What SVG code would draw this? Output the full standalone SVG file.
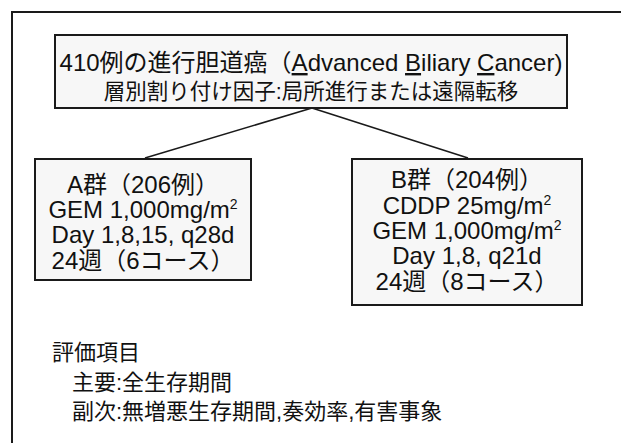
<svg xmlns="http://www.w3.org/2000/svg" width="621" height="443" viewBox="0 0 621 443">
<style>
text{font-family:"Liberation Sans","Noto Sans CJK JP",sans-serif;fill:#111}
.box{fill:#f7f7f7;stroke:#1a1a1a;stroke-width:2}
.frame{fill:none;stroke:#1a1a1a;stroke-width:2}
.conn{fill:none;stroke:#1a1a1a;stroke-width:1.6}
.c{text-anchor:middle}
.n{font-size:24px}
.s{font-size:22px}
.u{text-decoration:underline}
</style>
<path class="frame" d="M12,445 V12 H621"/>
<g id="connectors">
<line class="conn" x1="312" y1="108" x2="145" y2="158"/>
<line class="conn" x1="312" y1="108" x2="468" y2="158"/>
</g>
<g id="top">
<rect class="box" x="55" y="35" width="512" height="73"/>
<text class="c n" x="311" y="71">410例の進行胆道癌（<tspan class="u">A</tspan>dvanced <tspan class="u">B</tspan>iliary <tspan class="u">C</tspan>ancer)</text>
<text class="c" x="311" y="99" font-size="21.5">層別割り付け因子:局所進行または遠隔転移</text>
</g>
<g id="groupA">
<rect class="box" x="35" y="159" width="216" height="121"/>
<text class="c n" x="143" y="193">A群（206例）</text>
<text class="c n" x="143" y="218">GEM 1,000mg/m<tspan font-size="14" dy="-9">2</tspan></text>
<text class="c n" x="143" y="243">Day 1,8,15, q28d</text>
<text class="c n" x="143" y="269">24週（6コース）</text>
</g>
<g id="groupB">
<rect class="box" x="352" y="159" width="230" height="146"/>
<text class="c n" x="467" y="188">B群（204例）</text>
<text class="c n" x="467" y="214">CDDP 25mg/m<tspan font-size="14" dy="-9">2</tspan></text>
<text class="c n" x="467" y="239">GEM 1,000mg/m<tspan font-size="14" dy="-9">2</tspan></text>
<text class="c n" x="467" y="264">Day 1,8, q21d</text>
<text class="c n" x="467" y="290">24週（8コース）</text>
</g>
<g id="endpoints">
<text class="s" x="52" y="360">評価項目</text>
<text class="s" x="72" y="390">主要:全生存期間</text>
<text class="s" x="72" y="419">副次:無増悪生存期間,奏効率,有害事象</text>
</g>
</svg>
